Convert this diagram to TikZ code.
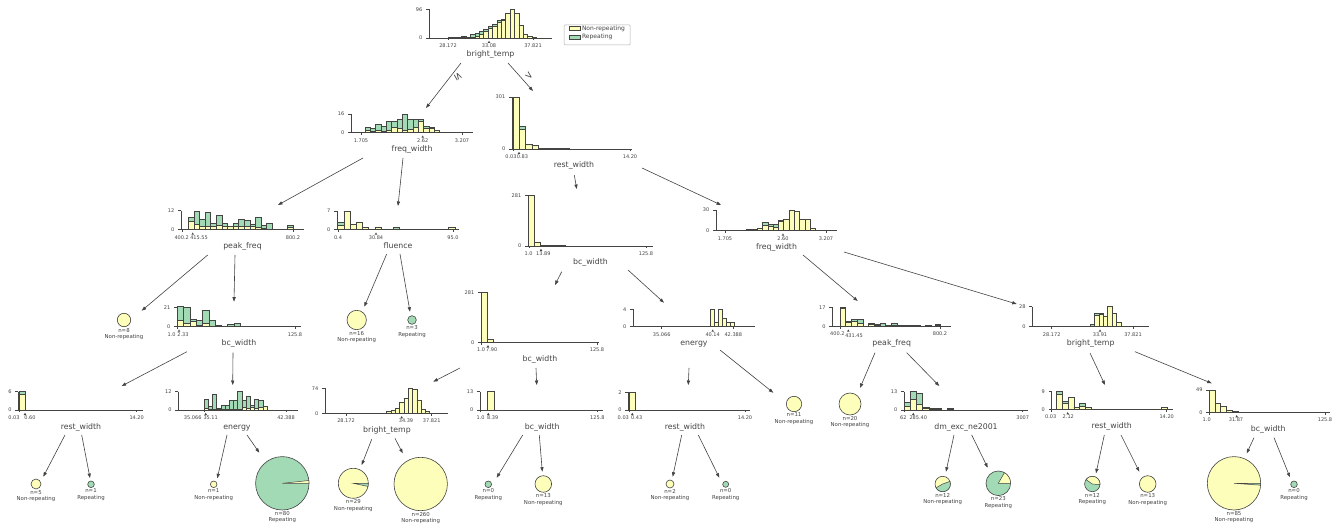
\documentclass[tikz,border=0pt]{standalone}
\usepackage{fontspec}
\setmainfont{DejaVu Sans}
\usetikzlibrary{positioning, arrows.meta}
\definecolor{ylw}{HTML}{FEFEBB}
\definecolor{grn}{HTML}{A1DAB4}
\definecolor{drk}{HTML}{444443}

\begin{document}
\begin{tikzpicture}[x=1pt, y=-1pt,
	bar/.style={draw=drk, line width=.5pt},
	ax/.style={draw=drk, line width=.6pt},
	edge/.style={draw=drk, line width=.6pt, -{Triangle[length=4.5pt, width=3.2pt]}},
	feat/.style={font=\fontsize{7.8}{9}\selectfont, text=drk, anchor=base, inner sep=0pt},
	tick/.style={font=\fontsize{5}{6}\selectfont, text=drk, inner sep=0pt},
	lgd/.style={font=\fontsize{6}{7}\selectfont, text=drk, inner sep=0pt},
	cmp/.style={font=\fontsize{10}{11}\selectfont, text=drk, inner sep=0pt},
	leaf/.style={circle, draw=drk, line width=.6pt, inner sep=0pt},
	info/.style={font=\fontsize{5.4}{6.4}\selectfont, text=drk, align=center, inner sep=0pt}]
	\path[use as bounding box, fill=white] (0,0) rectangle (1342,529);

	% bright_temp
	\begin{scope}[shift={(429,38)}]
	\foreach \x/\hy/\hg in {19.5/0.3/0.6, 23.9/0.3/0.9, 28.3/0/1.2, 32.7/0.3/1, 37.1/0/0.5, 41.5/0.5/3.5, 45.9/1.5/3.5, 50.3/3.7/3, 54.7/6.5/2.5, 59.1/9.7/2, 63.5/11.8/1.5, 67.9/15.8/1.5, 72.3/18/1, 76.7/24.5/0.5, 81.1/28.7/0, 85.5/25/0, 89.9/12.3/0, 94.3/4/0, 98.7/1.7/0, 103.1/0.5/0}
		{\draw[bar, fill=ylw] (\x,0) rectangle ++(4.4,-\hy); \draw[bar, fill=grn] (\x,-\hy) rectangle ++(4.4,-\hg);}
	\draw[ax] (0,-28.7) -- (0,0) -- (123,0);
	\draw[ax] (0,-28.7) -- ++(-3,0) node[tick, left=3.5pt] (rt-y1) {96};
	\draw[ax] (0,0) -- ++(-3,0) node[tick, left=3.5pt] (rt-y0) {0};
	\foreach \t/\u/\l [count=\i] in {19/19/28.172, 104/104/37.821}
		{\draw[ax] (\t,0) -- ++(0,2.3); \node[tick] (rt-x\i) at (\u,7.7) {\l};}
	\fill[drk] (60,2.8) -- ++(1.3,2.2) -- ++(-2.6,0) -- cycle;
	\node[tick] (rt-s) at (60,7.7) {33.08};
	\node[feat] (rt) at (61.5,19) {bright\_temp};
	\end{scope}

	% freq_width (left)
	\begin{scope}[shift={(351,132.7)}]
	\foreach \x/\hy/\hg in {14/2/3, 19.3/1/3.3, 24.7/2/6.3, 30/1/5, 35.3/2/9.7, 40.7/5/6.7, 46/4/9.3, 51.3/2/16.7, 56.7/3/10.7, 62/5/8.7, 67.3/11/2.7, 72.7/4/2, 78/4/1, 83.3/2.7/0}
		{\draw[bar, fill=ylw] (\x,0) rectangle ++(5.33,-\hy); \draw[bar, fill=grn] (\x,-\hy) rectangle ++(5.33,-\hg);}
	\draw[ax] (0,-18.7) -- (0,0) -- (122,0);
	\draw[ax] (0,-18.7) -- ++(-3,0) node[tick, left=3.5pt] (fw1-y1) {16};
	\draw[ax] (0,0) -- ++(-3,0) node[tick, left=3.5pt] (fw1-y0) {0};
	\foreach \t/\u/\l [count=\i] in {10/10/1.705, 111/111/3.207}
		{\draw[ax] (\t,0) -- ++(0,2.3); \node[tick] (fw1-x\i) at (\u,7.7) {\l};}
	\fill[drk] (71.7,2.8) -- ++(1.3,2.2) -- ++(-2.6,0) -- cycle;
	\node[tick] (fw1-s) at (71.7,7.7) {2.62};
	\node[feat] (fw1) at (61,19) {freq\_width};
	\end{scope}

	% rest_width (right)
	\begin{scope}[shift={(512,149)}]
	\foreach \x/\hy/\hg in {1/52/0, 7.3/20/2.3, 13.6/4.3/0, 19.9/3.3/0, 26.2/1/0, 32.5/0.7/0, 38.8/0.3/0, 45.1/0.3/0, 51.4/0.3/0}
		{\draw[bar, fill=ylw] (\x,0) rectangle ++(6.3,-\hy); \draw[bar, fill=grn] (\x,-\hy) rectangle ++(6.3,-\hg);}
	\draw[ax] (0,-52) -- (0,0) -- (120,0);
	\draw[ax] (0,-52) -- ++(-3,0) node[tick, left=3.5pt] (rw1-y1) {301};
	\draw[ax] (0,0) -- ++(-3,0) node[tick, left=3.5pt] (rw1-y0) {0};
	\foreach \t/\u/\l [count=\i] in {1/-1/0.03, 118/118/14.20}
		{\draw[ax] (\t,0) -- ++(0,2.3); \node[tick] (rw1-x\i) at (\u,7.7) {\l};}
	\fill[drk] (7,2.8) -- ++(1.3,2.2) -- ++(-2.6,0) -- cycle;
	\node[tick] (rw1-s) at (10.5,7.7) {0.83};
	\node[feat] (rw1) at (62,19) {rest\_width};
	\end{scope}

	% peak_freq
	\begin{scope}[shift={(181,229.7)}]
	\foreach \x/\hy/\hg in {7.3/8.7/3.6, 12.9/5.3/13.4, 18.5/3/7.7, 24.1/3.7/13.3, 29.7/3.7/2.6, 35.3/4/10, 40.9/3/3.3, 46.5/3/0, 52.1/3/3.3, 57.7/3/7.7, 63.3/3.7/5.3, 68.9/3/2.3, 74.5/2/10.3, 80.1/1.3/3.4, 85.7/0/6.3, 91.3/0/0.3, 106.7/2/2.7}
		{\draw[bar, fill=ylw] (\x,0) rectangle ++(5.6,-\hy); \draw[bar, fill=grn] (\x,-\hy) rectangle ++(5.6,-\hg);}
	\draw[ax] (0,-19) -- (0,0) -- (123,0);
	\draw[ax] (0,-19) -- ++(-3,0) node[tick, left=3.5pt] (pf2-y1) {12};
	\draw[ax] (0,0) -- ++(-3,0) node[tick, left=3.5pt] (pf2-y0) {0};
	\foreach \t/\u/\l [count=\i] in {1/0.7/400.2, 112/112/800.2}
		{\draw[ax] (\t,0) -- ++(0,2.3); \node[tick] (pf2-x\i) at (\u,7.7) {\l};}
	\fill[drk] (11.7,2.8) -- ++(1.3,2.2) -- ++(-2.6,0) -- cycle;
	\node[tick] (pf2-s) at (18,7.7) {415.55};
	\node[feat] (pf2) at (61.5,19) {peak\_freq};
	\end{scope}

	% fluence
	\begin{scope}[shift={(337,229.7)}]
	\foreach \x/\hy/\hg in {0.7/4.7/2.6, 6.9/18.7/0, 13.1/5.3/0, 19.3/7.3/0, 25.5/2.3/0, 37.9/2.3/0, 56.5/0/2.3, 111.7/2.3/0}
		{\draw[bar, fill=ylw] (\x,0) rectangle ++(6.2,-\hy); \draw[bar, fill=grn] (\x,-\hy) rectangle ++(6.2,-\hg);}
	\draw[ax] (0,-18.7) -- (0,0) -- (122,0);
	\draw[ax] (0,-18.7) -- ++(-3,0) node[tick, left=3.5pt] (fl2-y1) {7};
	\draw[ax] (0,0) -- ++(-3,0) node[tick, left=3.5pt] (fl2-y0) {0};
	\foreach \t/\u/\l [count=\i] in {1/1/0.4, 116/116/95.0}
		{\draw[ax] (\t,0) -- ++(0,2.3); \node[tick] (fl2-x\i) at (\u,7.7) {\l};}
	\fill[drk] (39,2.8) -- ++(1.3,2.2) -- ++(-2.6,0) -- cycle;
	\node[tick] (fl2-s) at (39,7.7) {30.84};
	\node[feat] (fl2) at (61,19) {fluence};
	\end{scope}

	% bc_width (middle)
	\begin{scope}[shift={(528,246)}]
	\foreach \x/\hy/\hg in {0/50.3/0, 6.2/3.7/0, 12.4/0.7/0, 18.6/0.7/0, 24.8/0.3/0, 31/0.3/0}
		{\draw[bar, fill=ylw] (\x,0) rectangle ++(6.2,-\hy); \draw[bar, fill=grn] (\x,-\hy) rectangle ++(6.2,-\hg);}
	\draw[ax] (0,-50.3) -- (0,0) -- (125,0);
	\draw[ax] (0,-50.3) -- ++(-3,0) node[tick, left=3.5pt] (bc2-y1) {281};
	\draw[ax] (0,0) -- ++(-3,0) node[tick, left=3.5pt] (bc2-y0) {0};
	\foreach \t/\u/\l [count=\i] in {1/0.7/1.0, 118/118/125.8}
		{\draw[ax] (\t,0) -- ++(0,2.3); \node[tick] (bc2-x\i) at (\u,7.7) {\l};}
	\fill[drk] (13,2.8) -- ++(1.3,2.2) -- ++(-2.6,0) -- cycle;
	\node[tick] (bc2-s) at (15.3,7.7) {13.89};
	\node[feat] (bc2) at (62.5,19) {bc\_width};
	\end{scope}

	% freq_width (right)
	\begin{scope}[shift={(716,230.7)}]
	\foreach \x/\hy/\hg in {9.3/0.3/0, 30.6/0.8/0.5, 35.9/1.2/0.5, 41.2/2.3/0, 46.5/5/3.3, 51.8/4.3/2, 57.1/3.6/2.7, 62.4/9/1.7, 67.7/11.7/0, 73/20.2/0.5, 78.3/19.7/0, 83.6/11.3/0, 88.9/11.7/0, 94.2/2.3/0, 99.5/0.3/0, 104.8/0.7/0}
		{\draw[bar, fill=ylw] (\x,0) rectangle ++(5.3,-\hy); \draw[bar, fill=grn] (\x,-\hy) rectangle ++(5.3,-\hg);}
	\draw[ax] (0,-20.7) -- (0,0) -- (121,0);
	\draw[ax] (0,-20.7) -- ++(-3,0) node[tick, left=3.5pt] (fw2-y1) {30};
	\draw[ax] (0,0) -- ++(-3,0) node[tick, left=3.5pt] (fw2-y0) {0};
	\foreach \t/\u/\l [count=\i] in {9/9/1.705, 110/110/3.207}
		{\draw[ax] (\t,0) -- ++(0,2.3); \node[tick] (fw2-x\i) at (\u,7.7) {\l};}
	\fill[drk] (67,2.8) -- ++(1.3,2.2) -- ++(-2.6,0) -- cycle;
	\node[tick] (fw2-s) at (67,7.7) {2.60};
	\node[feat] (fw2) at (60.5,19) {freq\_width};
	\end{scope}

	% bc_width (left, third row)
	\begin{scope}[shift={(177,326.7)}]
	\foreach \x/\hy/\hg in {0.3/6/14, 6.6/3.3/15.7, 12.9/5/2.7, 19.2/1/5, 25.5/3.3/13.4, 31.8/0/6, 38.1/0.5/0.5, 50.7/0/2.3, 57/0/3.3}
		{\draw[bar, fill=ylw] (\x,0) rectangle ++(6.3,-\hy); \draw[bar, fill=grn] (\x,-\hy) rectangle ++(6.3,-\hg);}
	\draw[ax] (0,-19) -- (0,0) -- (124,0);
	\draw[ax] (0,-19) -- ++(-3,0) node[tick, left=3.5pt] (bc3a-y1) {21};
	\draw[ax] (0,0) -- ++(-3,0) node[tick, left=3.5pt] (bc3a-y0) {0};
	\foreach \t/\u/\l [count=\i] in {0/-5.3/1.0, 118/118/125.8}
		{\draw[ax] (\t,0) -- ++(0,2.3); \node[tick] (bc3a-x\i) at (\u,7.7) {\l};}
	\fill[drk] (2,2.8) -- ++(1.3,2.2) -- ++(-2.6,0) -- cycle;
	\node[tick] (bc3a-s) at (6,7.7) {2.33};
	\node[feat] (bc3a) at (62,19) {bc\_width};
	\end{scope}

	% bc_width (middle, third row)
	\begin{scope}[shift={(481,342.3)}]
	\foreach \x/\hy/\hg in {0/50/0, 6/3.3/0}
		{\draw[bar, fill=ylw] (\x,0) rectangle ++(6,-\hy); \draw[bar, fill=grn] (\x,-\hy) rectangle ++(6,-\hg);}
	\draw[ax] (0,-50) -- (0,0) -- (118,0);
	\draw[ax] (0,-50) -- ++(-3,0) node[tick, left=3.5pt] (bc3b-y1) {281};
	\draw[ax] (0,0) -- ++(-3,0) node[tick, left=3.5pt] (bc3b-y0) {0};
	\foreach \t/\u/\l [count=\i] in {0/0.2/1.0, 116/116/125.8}
		{\draw[ax] (\t,0) -- ++(0,2.3); \node[tick] (bc3b-x\i) at (\u,7.7) {\l};}
	\fill[drk] (7,2.8) -- ++(1.3,2.2) -- ++(-2.6,0) -- cycle;
	\node[tick] (bc3b-s) at (10.7,7.7) {7.90};
	\node[feat] (bc3b) at (59,19) {bc\_width};
	\end{scope}

	% energy (third row)
	\begin{scope}[shift={(633,326.7)}]
	\draw[bar] (28.7,0) -- (77.7,0);
	\foreach \x/\hy/\hg in {77.7/17.4/0, 81.6/4.35/0, 85.5/17.4/0, 89.4/8.7/0, 93.3/4.35/0, 97.2/4.35/0}
		{\draw[bar, fill=ylw] (\x,0) rectangle ++(3.9,-\hy); \draw[bar, fill=grn] (\x,-\hy) rectangle ++(3.9,-\hg);}
	\draw[ax] (0,-17.4) -- (0,0) -- (122,0);
	\draw[ax] (0,-17.4) -- ++(-3,0) node[tick, left=3.5pt] (en3-y1) {4};
	\draw[ax] (0,0) -- ++(-3,0) node[tick, left=3.5pt] (en3-y0) {0};
	\foreach \t/\u/\l [count=\i] in {28.7/28.7/35.066, 100.3/100.3/42.388}
		{\draw[ax] (\t,0) -- ++(0,2.3); \node[tick] (en3-x\i) at (\u,7.7) {\l};}
	\fill[drk] (79.7,2.8) -- ++(1.3,2.2) -- ++(-2.6,0) -- cycle;
	\node[tick] (en3-s) at (79.7,7.7) {40.14};
	\node[feat] (en3) at (61,19) {energy};
	\end{scope}

	% peak_freq (third row)
	\begin{scope}[shift={(832.3,326.7)}]
	\foreach \x/\hy/\hg in {7.7/18/1, 13.4/4/1, 19.1/5/2.7, 24.8/3.3/4.4, 30.5/0.3/0, 36.2/2.3/1, 41.9/1.3/1, 47.6/0.8/2.5, 53.3/1.7/0, 59/1/2.3, 64.7/0.5/0.5, 70.4/0.5/0.5, 76.1/0.5/0.5, 81.8/0.5/0.5, 93.2/0.5/0.5, 102.7/1.4/1.3}
		{\draw[bar, fill=ylw] (\x,0) rectangle ++(5.7,-\hy); \draw[bar, fill=grn] (\x,-\hy) rectangle ++(5.7,-\hg);}
	\draw[ax] (0,-19.4) -- (0,0) -- (118.7,0);
	\draw[ax] (0,-19.4) -- ++(-3,0) node[tick, left=3.5pt] (pf3-y1) {17};
	\draw[ax] (0,0) -- ++(-3,0) node[tick, left=3.5pt] (pf3-y0) {0};
	\foreach \t/\u/\l [count=\i] in {7.7/5/400.2, 107.7/107.7/800.2}
		{\draw[ax] (\t,0) -- ++(0,2.3); \node[tick] (pf3-x\i) at (\u,6.5) {\l};}
	\fill[drk] (16,2.8) -- ++(1.3,2.2) -- ++(-2.6,0) -- cycle;
	\node[tick] (pf3-s) at (21.7,8.8) {431.45};
	\node[feat] (pf3) at (59.4,19) {peak\_freq};
	\end{scope}

	% bright_temp (third row)
	\begin{scope}[shift={(1032.3,326.7)}]
	\draw[bar] (19.4,0) -- (57.7,0);
	\foreach \x/\hy/\hg in {57.7/0/2.7, 62.1/11.8/1.5, 66.5/12.3/1, 70.9/10.7/0, 75.3/20/0, 79.7/13.3/0, 84.1/4.3/0, 88.5/0.7/0, 92.9/0.3/0}
		{\draw[bar, fill=ylw] (\x,0) rectangle ++(4.4,-\hy); \draw[bar, fill=grn] (\x,-\hy) rectangle ++(4.4,-\hg);}
	\draw[ax] (0,-20) -- (0,0) -- (116.7,0);
	\draw[ax] (0,-20) -- ++(-3,0) node[tick, left=3.5pt] (bt3-y1) {28};
	\draw[ax] (0,0) -- ++(-3,0) node[tick, left=3.5pt] (bt3-y0) {0};
	\foreach \t/\u/\l [count=\i] in {19.4/19.4/28.172, 100.7/100.7/37.821}
		{\draw[ax] (\t,0) -- ++(0,2.3); \node[tick] (bt3-x\i) at (\u,7.7) {\l};}
	\fill[drk] (67.7,2.8) -- ++(1.3,2.2) -- ++(-2.6,0) -- cycle;
	\node[tick] (bt3-s) at (67.7,7.7) {33.91};
	\node[feat] (bt3) at (58.4,19) {bright\_temp};
	\end{scope}

	% rest_width (bottom, 1)
	\begin{scope}[shift={(18.3,410)}]
	\draw[bar, fill=ylw] (0.7,0) rectangle ++(6.7,-15.3);
	\draw[bar, fill=grn] (0.7,-15.3) rectangle ++(6.7,-3);
	\draw[ax] (0,-18.3) -- (0,0) -- (124.7,0);
	\draw[ax] (0,-18.3) -- ++(-3,0) node[tick, left=3.5pt] (rw4a-y1) {6};
	\draw[ax] (0,0) -- ++(-3,0) node[tick, left=3.5pt] (rw4a-y0) {0};
	\foreach \t/\u/\l [count=\i] in {0.7/-4.3/0.03, 118.4/118.4/14.20}
		{\draw[ax] (\t,0) -- ++(0,2.3); \node[tick] (rw4a-x\i) at (\u,7.7) {\l};}
	\fill[drk] (6.7,2.8) -- ++(1.3,2.2) -- ++(-2.6,0) -- cycle;
	\node[tick] (rw4a-s) at (11.7,7.7) {0.60};
	\node[feat] (rw4a) at (62.7,19) {rest\_width};
	\end{scope}

	% energy (bottom)
	\begin{scope}[shift={(178.3,410)}]
	\foreach \x/\hy/\hg in {25.7/1.7/9.3, 29.9/1/2.3, 34.1/1/14.7, 38.3/0.5/1.2, 42.5/0.7/4.3, 46.7/0.5/4.5, 50.9/1/8.3, 55.1/1/8.3, 59.3/1/17.3, 63.5/3/6.3, 67.7/2/12, 71.9/3/2, 76.1/2/8.7, 80.3/3/6.3, 84.5/3.3/0}
		{\draw[bar, fill=ylw] (\x,0) rectangle ++(4.2,-\hy); \draw[bar, fill=grn] (\x,-\hy) rectangle ++(4.2,-\hg);}
	\draw[ax] (0,-18.3) -- (0,0) -- (119.7,0);
	\draw[ax] (0,-18.3) -- ++(-3,0) node[tick, left=3.5pt] (en4-y1) {12};
	\draw[ax] (0,0) -- ++(-3,0) node[tick, left=3.5pt] (en4-y0) {0};
	\foreach \t/\u/\l [count=\i] in {25.7/14.4/35.066, 107.7/107.7/42.388}
		{\draw[ax] (\t,0) -- ++(0,2.3); \node[tick] (en4-x\i) at (\u,7.7) {\l};}
	\fill[drk] (27.4,2.8) -- ++(1.3,2.2) -- ++(-2.6,0) -- cycle;
	\node[tick] (en4-s) at (32.4,7.7) {35.11};
	\node[feat] (en4) at (58.7,19) {energy};
	\end{scope}

	% bright_temp (bottom)
	\begin{scope}[shift={(325,413.3)}]
	\draw[bar] (21,0) -- (61.7,0);
	\foreach \x/\hy/\hg in {61.7/1.7/0, 66/2.7/0, 70.3/5/0, 74.6/10.7/0, 78.9/15/0, 83.2/25/0, 87.5/24/0, 91.8/13.3/0, 96.1/4/0, 100.4/1.7/0}
		{\draw[bar, fill=ylw] (\x,0) rectangle ++(4.3,-\hy); \draw[bar, fill=grn] (\x,-\hy) rectangle ++(4.3,-\hg);}
	\draw[ax] (0,-25) -- (0,0) -- (123.3,0);
	\draw[ax] (0,-25) -- ++(-3,0) node[tick, left=3.5pt] (bt4-y1) {74};
	\draw[ax] (0,0) -- ++(-3,0) node[tick, left=3.5pt] (bt4-y0) {0};
	\foreach \t/\u/\l [count=\i] in {21/21/28.172, 106.7/106.7/37.821}
		{\draw[ax] (\t,0) -- ++(0,2.3); \node[tick] (bt4-x\i) at (\u,7.7) {\l};}
	\fill[drk] (76.7,2.8) -- ++(1.3,2.2) -- ++(-2.6,0) -- cycle;
	\node[tick] (bt4-s) at (81,7.7) {34.39};
	\node[feat] (bt4) at (62,19) {bright\_temp};
	\end{scope}

	% bc_width (bottom)
	\begin{scope}[shift={(480,410)}]
	\draw[bar, fill=ylw] (7.3,0) rectangle ++(6.7,-18.3);
	\draw[ax] (0,-18.3) -- (0,0) -- (123.3,0);
	\draw[ax] (0,-18.3) -- ++(-3,0) node[tick, left=3.5pt] (bc4-y1) {13};
	\draw[ax] (0,0) -- ++(-3,0) node[tick, left=3.5pt] (bc4-y0) {0};
	\foreach \t/\u/\l [count=\i] in {0/0.7/1.0, 117.3/117.3/125.8}
		{\draw[ax] (\t,0) -- ++(0,2.3); \node[tick] (bc4-x\i) at (\u,7.7) {\l};}
	\fill[drk] (8.3,2.8) -- ++(1.3,2.2) -- ++(-2.6,0) -- cycle;
	\node[tick] (bc4-s) at (12.7,7.7) {8.39};
	\node[feat] (bc4) at (62.3,19) {bc\_width};
	\end{scope}

	% rest_width (bottom, 2)
	\begin{scope}[shift={(628.3,410)}]
	\draw[bar, fill=ylw] (0.7,0) rectangle ++(6,-17.7);
	\draw[ax] (0,-17.7) -- (0,0) -- (121.7,0);
	\draw[ax] (0,-17.7) -- ++(-3,0) node[tick, left=3.5pt] (rw4b-y1) {2};
	\draw[ax] (0,0) -- ++(-3,0) node[tick, left=3.5pt] (rw4b-y0) {0};
	\foreach \t/\u/\l [count=\i] in {0.7/-5/0.03, 116.7/116.7/14.20}
		{\draw[ax] (\t,0) -- ++(0,2.3); \node[tick] (rw4b-x\i) at (\u,7.7) {\l};}
	\fill[drk] (4,2.8) -- ++(1.3,2.2) -- ++(-2.6,0) -- cycle;
	\node[tick] (rw4b-s) at (8.4,7.7) {0.43};
	\node[feat] (rw4b) at (56.7,19) {rest\_width};
	\end{scope}

	% dm_exc_ne2001
	\begin{scope}[shift={(904,410)}]
	\foreach \x/\hy/\hg in {0/4/3.3, 6.2/11/7.3, 12.4/5.7/11, 18.6/1.4/1.3, 24.8/0.7/0.7, 31/0.7/0.7, 43.4/0.7/0.7}
		{\draw[bar, fill=ylw] (\x,0) rectangle ++(6.2,-\hy); \draw[bar, fill=grn] (\x,-\hy) rectangle ++(6.2,-\hg);}
	\draw[ax] (0,-18.3) -- (0,0) -- (124.3,0);
	\draw[ax] (0,-18.3) -- ++(-3,0) node[tick, left=3.5pt] (dm4-y1) {13};
	\draw[ax] (0,0) -- ++(-3,0) node[tick, left=3.5pt] (dm4-y0) {0};
	\foreach \t/\u/\l [count=\i] in {0/-0.7/62, 118.7/118.7/3007}
		{\draw[ax] (\t,0) -- ++(0,2.3); \node[tick] (dm4-x\i) at (\u,7.7) {\l};}
	\fill[drk] (9.3,2.8) -- ++(1.3,2.2) -- ++(-2.6,0) -- cycle;
	\node[tick] (dm4-s) at (14.3,7.7) {285.40};
	\node[feat] (dm4) at (62,19) {dm\_exc\_ne2001};
	\end{scope}

	% rest_width (bottom, 3)
	\begin{scope}[shift={(1051.7,409.3)}]
	\foreach \x/\hy/\hg in {5/15.3/3, 10.7/6.3/2, 16.4/12/0, 22.1/2/0, 27.8/3.5/2.5, 33.5/2/0, 110/2/0}
		{\draw[bar, fill=ylw] (\x,0) rectangle ++(5.7,-\hy); \draw[bar, fill=grn] (\x,-\hy) rectangle ++(5.7,-\hg);}
	\draw[ax] (0,-17.6) -- (0,0) -- (121.6,0);
	\draw[ax] (0,-17.6) -- ++(-3,0) node[tick, left=3.5pt] (rw4c-y1) {9};
	\draw[ax] (0,0) -- ++(-3,0) node[tick, left=3.5pt] (rw4c-y0) {0};
	\foreach \t/\u/\l [count=\i] in {0/-1/0.03, 115/115/14.20}
		{\draw[ax] (\t,0) -- ++(0,2.3); \node[tick] (rw4c-x\i) at (\u,7.7) {\l};}
	\fill[drk] (16,2.8) -- ++(1.3,2.2) -- ++(-2.6,0) -- cycle;
	\node[tick] (rw4c-s) at (16.6,7.7) {2.12};
	\node[feat] (rw4c) at (60,19) {rest\_width};
	\end{scope}

	% bc_width (bottom right)
	\begin{scope}[shift={(1209.3,412.3)}]
	\foreach \x/\hy/\hg in {0/22.3/0, 5.7/9/0, 11.4/6.3/0, 17.1/1.7/0, 22.8/0.7/0, 28.5/0.3/0, 34.2/0.3/0}
		{\draw[bar, fill=ylw] (\x,0) rectangle ++(5.7,-\hy); \draw[bar, fill=grn] (\x,-\hy) rectangle ++(5.7,-\hg);}
	\draw[ax] (0,-22.3) -- (0,0) -- (120.7,0);
	\draw[ax] (0,-22.3) -- ++(-3,0) node[tick, left=3.5pt] (bc4c-y1) {49};
	\draw[ax] (0,0) -- ++(-3,0) node[tick, left=3.5pt] (bc4c-y0) {0};
	\foreach \t/\u/\l [count=\i] in {0/-2.6/1.0, 115.7/115.7/125.8}
		{\draw[ax] (\t,0) -- ++(0,2.3); \node[tick] (bc4c-x\i) at (\u,7.7) {\l};}
	\fill[drk] (27.4,2.8) -- ++(1.3,2.2) -- ++(-2.6,0) -- cycle;
	\node[tick] (bc4c-s) at (26.7,7.7) {31.87};
	\node[feat] (bc4c) at (59,19) {bc\_width};
	\end{scope}

	% leaves
	\foreach \n/\x/\y/\d/\c/\k/\t in {l8/124/320/13.4/ylw/8/Non-repeating, l16/356.7/320/19.4/ylw/16/Non-repeating, l3/412/320/8.6/grn/3/Repeating, l5/36/484/10/ylw/5/Non-repeating, l1/91/484.3/6.6/grn/1/Repeating, l2a/213.7/484.3/6.6/ylw/1/Non-repeating, l80/282.3/483.3/53.4/grn/80/Repeating, l29/353.3/483.3/30/ylw/29/Non-repeating, l260/420.7/484/53.4/ylw/260/Non-repeating, l0a/488.3/484.3/6.6/grn/0/Repeating, l13a/543.3/484/16.6/ylw/13/Non-repeating, l2b/670/484/8/ylw/2/Non-repeating, l0b/725.7/484.3/6/grn/0/Repeating, l11/794/404/15.4/ylw/11/Non-repeating, l20/850/404/22/ylw/20/Non-repeating, l12a/942.7/484/15.4/ylw/12/Non-repeating, l23/998.3/483.3/24.6/grn/23/Repeating, l12b/1092.3/484/15.4/grn/12/Repeating, l13b/1147.7/484/16.6/ylw/13/Non-repeating, l85/1234/483.3/53.4/ylw/85/Non-repeating, l0c/1294/484.3/6.6/grn/0/Repeating}
		{\node[leaf, fill=\c, minimum size=\d pt] (\n) at (\x,\y) {};
		 \node[info, below=.8pt of \n] (\n-t) {n=\k\\\t};}
	\path[bar, fill=ylw] (l80.center) -- ++(0:26.7pt) arc[start angle=0, end angle=6, radius=26.7pt] -- cycle;
	\path[bar, fill=grn] (l29.center) -- ++(-12:15pt) arc[start angle=-12, end angle=0, radius=15pt] -- cycle;
	\path[bar, fill=grn] (l12a.center) -- ++(210:7.7pt) arc[start angle=210, end angle=380, radius=7.7pt] -- cycle;
	\path[bar, fill=ylw] (l23.center) -- ++(0:12.3pt) arc[start angle=0, end angle=60, radius=12.3pt] -- cycle;
	\path[bar, fill=ylw] (l12b.center) -- ++(-5:7.7pt) arc[start angle=-5, end angle=145, radius=7.7pt] -- cycle;
	\path[bar, fill=grn] (l85.center) -- ++(-4:26.7pt) arc[start angle=-4, end angle=0, radius=26.7pt] -- cycle;

	% legend
	\node[draw=gray!60, line width=.5pt, rounded corners=1pt, minimum width=66pt, minimum height=20pt, inner sep=0pt] (leg) at (597.2,35) {};
	\node[bar, fill=ylw, minimum width=10.7pt, minimum height=4pt, inner sep=0pt] (sw1) at (574.7,28.7) {};
	\node[bar, fill=grn, minimum width=10.7pt, minimum height=4pt, inner sep=0pt] (sw2) at (574.7,37) {};
	\node[lgd, right=1.5pt of sw1] (lg1) {Non-repeating};
	\node[lgd, right=1.5pt of sw2] (lg2) {Repeating};

	% edges
	\path (461,63) coordinate (rt-a) (508,63) coordinate (rt-b)
		(363,158) coordinate (fw1-a) (403,158) coordinate (fw1-b)
		(574.3,175) coordinate (rw1-a) (642,168) coordinate (rw1-b)
		(207.7,255) coordinate (pf2-a) (235,255) coordinate (pf2-b)
		(386.7,254) coordinate (fl2-a) (400,254) coordinate (fl2-b)
		(561.7,271.7) coordinate (bc2-a) (628,270) coordinate (bc2-b)
		(803,255) coordinate (fw2-a) (844,252) coordinate (fw2-b)
		(187,351.7) coordinate (bc3a-a) (233,352.7) coordinate (bc3a-b)
		(460,368) coordinate (bc3b-a) (536,368) coordinate (bc3b-b)
		(689,368) coordinate (en3-a) (720,350) coordinate (en3-b)
		(875,352.7) coordinate (pf3-a) (906.7,352.7) coordinate (pf3-b)
		(1090,353) coordinate (bt3-a) (1135,351.7) coordinate (bt3-b)
		(65,435) coordinate (rw4a-a) (81.7,435) coordinate (rw4a-b)
		(227,435) coordinate (en4-a) (247,435) coordinate (en4-b)
		(371.7,439.3) coordinate (bt4-a) (395,438.3) coordinate (bt4-b)
		(522.7,435) coordinate (bc4-a) (539.3,435) coordinate (bc4-b)
		(681.7,435) coordinate (rw4b-a) (698.3,435) coordinate (rw4b-b)
		(954,435) coordinate (dm4-a) (971.7,435) coordinate (dm4-b)
		(1104.3,435) coordinate (rw4c-a) (1121,435) coordinate (rw4c-b)
		(1254,437.7) coordinate (bc4c-a) (1274,437.7) coordinate (bc4c-b);
	\path (426,108) coordinate (fw1-in) (533,91) coordinate (rw1-in)
		(278,205) coordinate (pf2-in) (398,206) coordinate (fl2-in)
		(576.7,189) coordinate (bc2-in) (721,205) coordinate (fw2-in)
		(141.7,310.7) coordinate (l8-in) (234,301.7) coordinate (bc3a-in)
		(364.3,306.7) coordinate (l16-in) (410,311.7) coordinate (l3-in)
		(555,285) coordinate (bc3b-in) (664,302.7) coordinate (en3-in)
		(857.7,301) coordinate (pf3-in) (1016.7,304) coordinate (bt3-in)
		(121.7,386) coordinate (rw4a-in) (232.7,385) coordinate (en4-in)
		(433.3,381.7) coordinate (bt4-in) (536.7,385) coordinate (bc4-in)
		(688.3,385) coordinate (rw4b-in) (773.3,392.7) coordinate (l11-in)
		(860,388) coordinate (l20-in) (939.3,386) coordinate (dm4-in)
		(1105,385) coordinate (rw4c-in) (1211.7,383.3) coordinate (bc4c-in)
		(43.3,476.7) coordinate (l5-in) (90,478) coordinate (l1-in)
		(217.3,478.3) coordinate (l2a-in) (259.3,452.7) coordinate (l80-in)
		(361.7,465) coordinate (l29-in) (402.7,453.3) coordinate (l260-in)
		(496.7,477.7) coordinate (l0a-in) (542.3,471.7) coordinate (l13a-in)
		(672.7,476.7) coordinate (l2b-in) (719.3,477.7) coordinate (l0b-in)
		(946,471.7) coordinate (l12a-in) (987.7,467.7) coordinate (l23-in)
		(1096,473.3) coordinate (l12b-in) (1139.3,471.7) coordinate (l13b-in)
		(1246.7,453.3) coordinate (l85-in) (1290,477.3) coordinate (l0c-in);
	\foreach \s/\e in {rt-a/fw1-in, rt-b/rw1-in, fw1-a/pf2-in, fw1-b/fl2-in, rw1-a/bc2-in, rw1-b/fw2-in, pf2-a/l8-in, pf2-b/bc3a-in, fl2-a/l16-in, fl2-b/l3-in, bc2-a/bc3b-in, bc2-b/en3-in, fw2-a/pf3-in, fw2-b/bt3-in, bc3a-a/rw4a-in, bc3a-b/en4-in, bc3b-a/bt4-in, bc3b-b/bc4-in, en3-a/rw4b-in, en3-b/l11-in, pf3-a/l20-in, pf3-b/dm4-in, bt3-a/rw4c-in, bt3-b/bc4c-in, rw4a-a/l5-in, rw4a-b/l1-in, en4-a/l2a-in, en4-b/l80-in, bt4-a/l29-in, bt4-b/l260-in, bc4-a/l0a-in, bc4-b/l13a-in, rw4b-a/l2b-in, rw4b-b/l0b-in, dm4-a/l12a-in, dm4-b/l23-in, rw4c-a/l12b-in, rw4c-b/l13b-in, bc4c-a/l85-in, bc4c-b/l0c-in}
		\draw[edge] (\s) -- (\e);
	\node[cmp, rotate=-60] (le) at (458,77) {≤};
	\node[cmp, rotate=-40] (gt) at (529,76) {>};
\end{tikzpicture}
\end{document}
